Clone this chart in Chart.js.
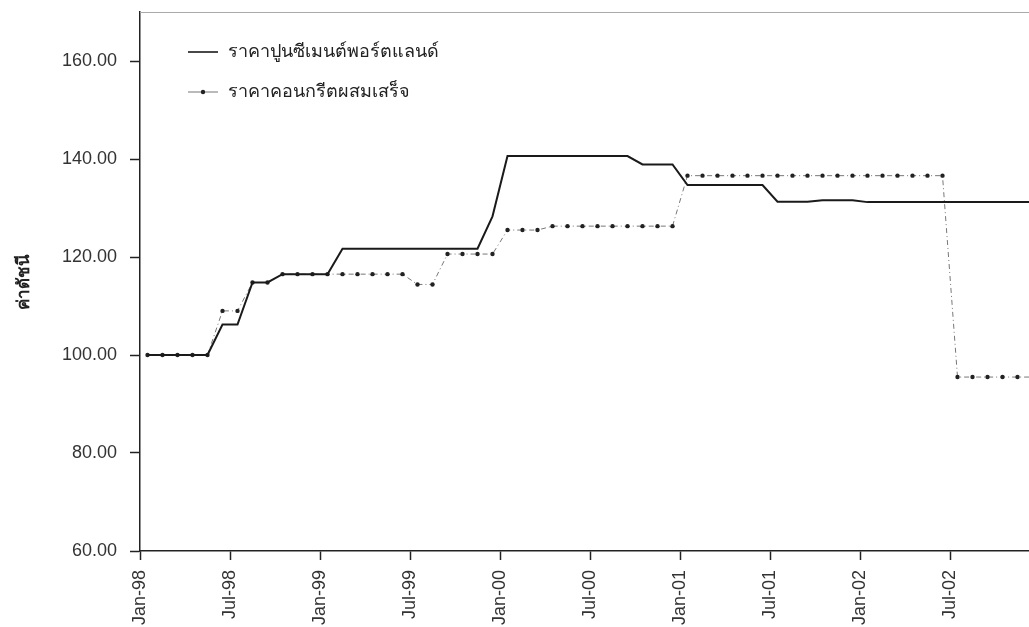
<!DOCTYPE html>
<html>
<head>
<meta charset="utf-8">
<script src="https://cdn.jsdelivr.net/npm/chart.js@4.4.0/dist/chart.umd.min.js"></script>
<style>
  html, body { margin: 0; padding: 0; background: #fff; overflow: hidden; }
  #wrap { width: 1060px; height: 640px; }
</style>
</head>
<body>
<div id="wrap"><canvas id="chart" width="1060" height="640"></canvas></div>
<script>
// monthly index values, Jan-98 .. Dec-02
const seriesNames = ["ราคาปูนซีเมนต์พอร์ตแลนด์", "ราคาคอนกรีตผสมเสร็จ"];
const cementPrice = [
  100, 100, 100, 100, 100, 106.2, 106.2, 114.8, 114.8, 116.5, 116.5, 116.5,
  116.5, 121.7, 121.7, 121.7, 121.7, 121.7, 121.7, 121.7, 121.7, 121.7, 121.7, 128.3,
  140.6, 140.6, 140.6, 140.6, 140.6, 140.6, 140.6, 140.6, 140.6, 138.9, 138.9, 138.9,
  134.7, 134.7, 134.7, 134.7, 134.7, 134.7, 131.3, 131.3, 131.3, 131.6, 131.6, 131.6,
  131.2, 131.2, 131.2, 131.2, 131.2, 131.2, 131.2, 131.2, 131.2, 131.2, 131.2, 131.2
];
const concretePrice = [
  100, 100, 100, 100, 100, 109.0, 109.0, 114.8, 114.8, 116.5, 116.5, 116.5,
  116.5, 116.5, 116.5, 116.5, 116.5, 116.5, 114.4, 114.4, 120.6, 120.6, 120.6, 120.6,
  125.5, 125.5, 125.5, 126.3, 126.3, 126.3, 126.3, 126.3, 126.3, 126.3, 126.3, 126.3,
  136.6, 136.6, 136.6, 136.6, 136.6, 136.6, 136.6, 136.6, 136.6, 136.6, 136.6, 136.6,
  136.6, 136.6, 136.6, 136.6, 136.6, 136.6, 95.5, 95.5, 95.5, 95.5, 95.5, 95.5
];
const xTickLabels = ["Jan-98", "Jul-98", "Jan-99", "Jul-99", "Jan-00", "Jul-00", "Jan-01", "Jul-01", "Jan-02", "Jul-02"];
const yTickValues = [60, 80, 100, 120, 140, 160];
const yTitle = "ค่าดัชนี";

const FONT = "'Liberation Sans', Arial, sans-serif";

// legend sits inside the plot, top left, like the original
const insideLegend = {
  id: "insideLegend",
  afterDraw(chart) {
    const ctx = chart.ctx;
    const rows = [52, 92];
    ctx.save();
    ctx.font = "18px " + FONT;
    ctx.textBaseline = "middle";
    ctx.fillStyle = "#222";
    chart.data.datasets.forEach((ds, i) => {
      const y = rows[i];
      ctx.beginPath();
      ctx.strokeStyle = ds.borderColor;
      ctx.lineWidth = i === 0 ? 1.6 : 1;
      ctx.moveTo(188, y);
      ctx.lineTo(218, y);
      ctx.stroke();
      if (i === 1) {
        ctx.beginPath();
        ctx.fillStyle = "#222";
        ctx.arc(203, y, 2.2, 0, Math.PI * 2);
        ctx.fill();
      }
      ctx.fillStyle = "#222";
      ctx.fillText(ds.label, 228, y);
    });
    // top frame line
    const a = chart.chartArea;
    ctx.beginPath();
    ctx.strokeStyle = "#aaa";
    ctx.lineWidth = 1;
    ctx.moveTo(a.left, a.top + 0.5);
    ctx.lineTo(a.right, a.top + 0.5);
    ctx.stroke();
    ctx.restore();
  }
};

const ctx = document.getElementById("chart").getContext("2d");
const chart = new Chart(ctx, {
  type: "line",
  data: {
    datasets: [
      {
        label: seriesNames[0],
        data: cementPrice.map((v, i) => ({ x: i, y: v })),
        borderColor: "#1a1a1a",
        borderWidth: 2,
        pointRadius: 0,
        tension: 0,
      },
      {
        label: seriesNames[1],
        data: concretePrice.map((v, i) => ({ x: i, y: v })),
        borderColor: "#777",
        borderWidth: 1,
        borderDash: [5, 3, 1, 3],
        pointRadius: 2.2,
        pointBackgroundColor: "#222",
        pointBorderWidth: 0,
        tension: 0,
      },
    ],
  },
  options: {
    responsive: false,
    animation: false,
    devicePixelRatio: 1,
    layout: { padding: { top: 12, right: 20, left: 0, bottom: 0 } },
    plugins: { legend: { display: false }, tooltip: { enabled: false } },
    scales: {
      x: {
        type: "linear",
        min: -0.5,
        max: 59.5,
        afterBuildTicks: (s) => {
          s.ticks = xTickLabels.map((l, k) => ({ value: -0.5 + 6 * k }));
        },
        afterFit: (s) => { s.height = 89; },
        ticks: {
          autoSkip: false,
          minRotation: 90,
          maxRotation: 90,
          padding: 10,
          color: "#333",
          font: { family: FONT, size: 18 },
          callback: (v, i) => xTickLabels[i],
        },
        grid: { drawOnChartArea: false, drawTicks: true, tickLength: 9, tickColor: "#222", tickWidth: 1.5 },
        border: { display: true, color: "#222", width: 1.5 },
      },
      y: {
        min: 60,
        max: 170,
        afterBuildTicks: (s) => {
          s.ticks = yTickValues.map((v) => ({ value: v }));
        },
        afterFit: (s) => {
          s.width = 140;
          s.paddingTop = 0;
          s.paddingBottom = 0;
        },
        ticks: {
          padding: 13,
          color: "#333",
          font: { family: FONT, size: 18 },
          callback: (v) => Number(v).toFixed(2),
        },
        grid: { drawOnChartArea: false, drawTicks: true, tickLength: 10, tickColor: "#222", tickWidth: 1.5 },
        border: { display: true, color: "#222", width: 1.5 },
        title: {
          display: true,
          text: yTitle,
          color: "#222",
          font: { family: FONT, size: 17, weight: "bold" },
          padding: { top: 14, bottom: 0 },
        },
      },
    },
  },
  plugins: [insideLegend],
});
</script>
</body>
</html>
